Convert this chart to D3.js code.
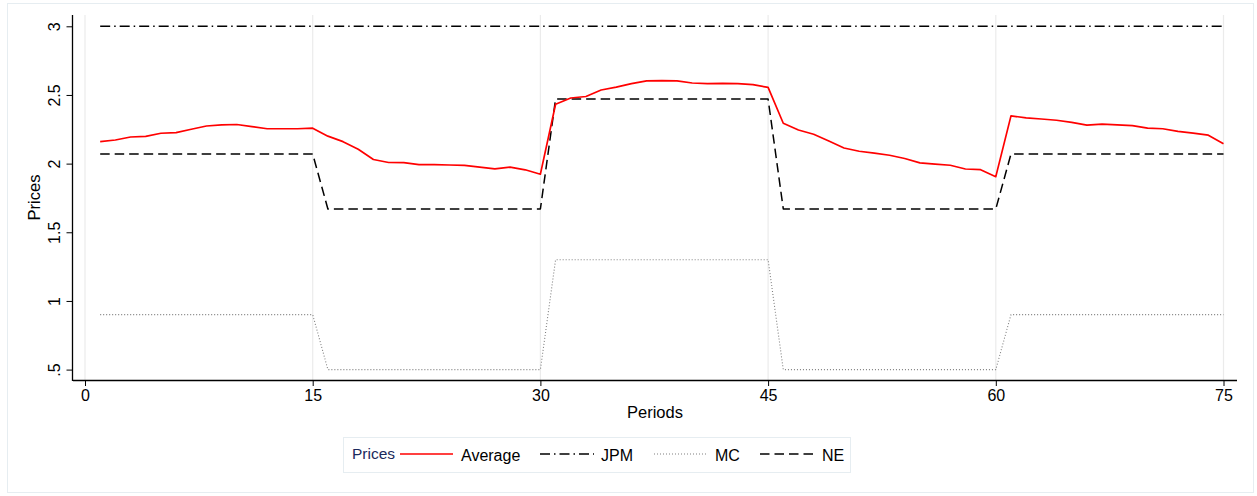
<!DOCTYPE html>
<html>
<head>
<meta charset="utf-8">
<script src="https://cdn.jsdelivr.net/npm/d3@7"></script>
<style>
  html, body { margin: 0; padding: 0; background: #fff; }
  svg { display: block; }
  text { font-family: "Liberation Sans", Arial, sans-serif; fill: #000; }
</style>
</head>
<body>
<svg id="chart" width="1257" height="496"></svg>
<script>
// Period index (x values)
const periods = [1,2,3,4,5,6,7,8,9,10,11,12,13,14,15,16,17,18,19,20,21,22,23,24,25,
  26,27,28,29,30,31,32,33,34,35,36,37,38,39,40,41,42,43,44,45,46,47,48,49,50,
  51,52,53,54,55,56,57,58,59,60,61,62,63,64,65,66,67,68,69,70,71,72,73,74,75];

// Observed average price per period
const average = [2.160,2.172,2.194,2.199,2.221,2.226,2.250,2.274,2.282,2.285,
  2.270,2.254,2.254,2.254,2.258,2.200,2.160,2.105,2.030,2.008,
  2.007,1.993,1.993,1.990,1.987,1.974,1.962,1.974,1.955,1.923,
  2.432,2.478,2.489,2.536,2.557,2.583,2.603,2.605,2.603,2.587,
  2.582,2.584,2.582,2.575,2.555,2.294,2.245,2.214,2.165,2.114,
  2.090,2.076,2.061,2.037,2.005,1.996,1.988,1.961,1.956,1.905,
  2.348,2.333,2.325,2.316,2.300,2.280,2.287,2.282,2.277,2.259,
  2.254,2.235,2.222,2.207,2.145];

// Joint profit maximisation benchmark
const jpm = [3,3,3,3,3,3,3,3,3,3,3,3,3,3,3,3,3,3,3,3,3,3,3,3,3,
  3,3,3,3,3,3,3,3,3,3,3,3,3,3,3,3,3,3,3,3,3,3,3,3,3,
  3,3,3,3,3,3,3,3,3,3,3,3,3,3,3,3,3,3,3,3,3,3,3,3,3];

// Marginal cost
const mc = [0.9,0.9,0.9,0.9,0.9,0.9,0.9,0.9,0.9,0.9,0.9,0.9,0.9,0.9,0.9,
  0.5,0.5,0.5,0.5,0.5,0.5,0.5,0.5,0.5,0.5,0.5,0.5,0.5,0.5,0.5,
  1.3,1.3,1.3,1.3,1.3,1.3,1.3,1.3,1.3,1.3,1.3,1.3,1.3,1.3,1.3,
  0.5,0.5,0.5,0.5,0.5,0.5,0.5,0.5,0.5,0.5,0.5,0.5,0.5,0.5,0.5,
  0.9,0.9,0.9,0.9,0.9,0.9,0.9,0.9,0.9,0.9,0.9,0.9,0.9,0.9,0.9];

// Nash equilibrium price
const ne = [2.07,2.07,2.07,2.07,2.07,2.07,2.07,2.07,2.07,2.07,2.07,2.07,2.07,2.07,2.07,
  1.67,1.67,1.67,1.67,1.67,1.67,1.67,1.67,1.67,1.67,1.67,1.67,1.67,1.67,1.67,
  2.47,2.47,2.47,2.47,2.47,2.47,2.47,2.47,2.47,2.47,2.47,2.47,2.47,2.47,2.47,
  1.67,1.67,1.67,1.67,1.67,1.67,1.67,1.67,1.67,1.67,1.67,1.67,1.67,1.67,1.67,
  2.07,2.07,2.07,2.07,2.07,2.07,2.07,2.07,2.07,2.07,2.07,2.07,2.07,2.07,2.07];

// Axis ticks
const xTicks = [0, 15, 30, 45, 60, 75];
const yTicks = [0.5, 1, 1.5, 2, 2.5, 3];
const yTickLabels = [".5", "1", "1.5", "2", "2.5", "3"];

// Legend entries
const legendTitle = "Prices";
const seriesNames = ["Average", "JPM", "MC", "NE"];

const svg = d3.select("#chart");

// Outer graph region frame
svg.append("rect")
  .attr("x", 7.5).attr("y", 3.5).attr("width", 1246).attr("height", 489)
  .attr("fill", "#fff").attr("stroke", "#e6edf1").attr("stroke-width", 1);

const plot = { left: 73, right: 1237, top: 15, bottom: 380 };

const x = d3.scaleLinear().domain([0, 75]).range([85, 1223.5]);
const y = d3.scaleLinear().domain([0.5, 3]).range([369.6, 26.3]);

// Vertical grid lines
svg.append("g")
  .selectAll("line").data(xTicks).join("line")
  .attr("x1", d => x(d)).attr("x2", d => x(d))
  .attr("y1", plot.top).attr("y2", plot.bottom)
  .attr("stroke", "#ebebeb").attr("stroke-width", 1.2);

// X axis
const xAxis = d3.axisBottom(x).tickValues(xTicks).tickSize(6).tickPadding(4)
  .tickFormat(d3.format("d"));
const gx = svg.append("g").attr("transform", `translate(0,${plot.bottom})`).call(xAxis);
gx.select(".domain").remove();
gx.selectAll(".tick line").attr("stroke", "#000").attr("stroke-width", 1);
gx.selectAll(".tick text")
  .attr("font-size", 16).attr("fill", "#000")
  .attr("font-family", "Liberation Sans, Arial, sans-serif");
svg.append("line")
  .attr("x1", plot.left).attr("x2", plot.right)
  .attr("y1", plot.bottom + 0.5).attr("y2", plot.bottom + 0.5)
  .attr("stroke", "#000").attr("stroke-width", 1.3);

// Y axis with vertical tick labels
const yAxis = d3.axisLeft(y).tickValues(yTicks).tickSize(6.5)
  .tickFormat((d, i) => yTickLabels[i]);
const gy = svg.append("g").attr("transform", `translate(${plot.left},0)`).call(yAxis);
gy.select(".domain").remove();
gy.selectAll(".tick line").attr("stroke", "#000").attr("stroke-width", 1);
gy.selectAll(".tick text")
  .attr("font-size", 16).attr("fill", "#000")
  .attr("font-family", "Liberation Sans, Arial, sans-serif")
  .attr("x", null).attr("dy", null)
  .attr("text-anchor", "middle")
  .attr("transform", "translate(-13,0) rotate(-90)");
svg.append("line")
  .attr("x1", plot.left - 0.5).attr("x2", plot.left - 0.5)
  .attr("y1", plot.top).attr("y2", plot.bottom + 1)
  .attr("stroke", "#000").attr("stroke-width", 1.3);

// Axis titles
svg.append("text")
  .attr("x", (plot.left + plot.right) / 2).attr("y", 418)
  .attr("text-anchor", "middle").attr("font-size", 16.5)
  .text("Periods");
svg.append("text")
  .attr("transform", `translate(40,${(plot.top + plot.bottom) / 2}) rotate(-90)`)
  .attr("text-anchor", "middle").attr("font-size", 16.5)
  .text("Prices");

// Series styles
const styles = {
  Average: { color: "#ff0000", width: 1.7, dash: null },
  JPM: { color: "#000", width: 1.5, dash: "10,4,1.5,4" },
  MC: { color: "#808080", width: 1.1, dash: "1,2" },
  NE: { color: "#000", width: 1.5, dash: "9.5,5" }
};
const seriesData = { Average: average, JPM: jpm, MC: mc, NE: ne };

const line = d3.line().x(d => x(d[0])).y(d => y(d[1]));

["MC", "NE", "JPM", "Average"].forEach(name => {
  const vals = seriesData[name];
  const pts = periods.map((p, i) => [p, vals[i]]);
  const s = styles[name];
  svg.append("path")
    .datum(pts)
    .attr("d", line)
    .attr("fill", "none")
    .attr("stroke", s.color)
    .attr("stroke-width", s.width)
    .attr("stroke-dasharray", s.dash)
    .attr("stroke-linejoin", "round");
});

// Legend
const lg = svg.append("g");
lg.append("rect")
  .attr("x", 343.5).attr("y", 437.5).attr("width", 507).attr("height", 35)
  .attr("fill", "#fff").attr("stroke", "#e6edf1").attr("stroke-width", 1);
lg.append("text")
  .attr("x", 352).attr("y", 459)
  .attr("font-size", 15.5)
  .style("fill", "#1b2a5c")
  .text(legendTitle);

const legendItems = [
  { key: "Average", x1: 400, x2: 453, tx: 461 },
  { key: "JPM", x1: 540, x2: 594, tx: 601 },
  { key: "MC", x1: 654, x2: 707, tx: 715 },
  { key: "NE", x1: 760, x2: 814, tx: 822 }
];
legendItems.forEach((it, i) => {
  const s = styles[seriesNames[i]];
  lg.append("line")
    .attr("x1", it.x1).attr("x2", it.x2).attr("y1", 454).attr("y2", 454)
    .attr("stroke", s.color).attr("stroke-width", s.width)
    .attr("stroke-dasharray", s.dash);
  lg.append("text")
    .attr("x", it.tx).attr("y", 460.5)
    .attr("font-size", 16)
    .text(seriesNames[i]);
});
</script>
</body>
</html>
